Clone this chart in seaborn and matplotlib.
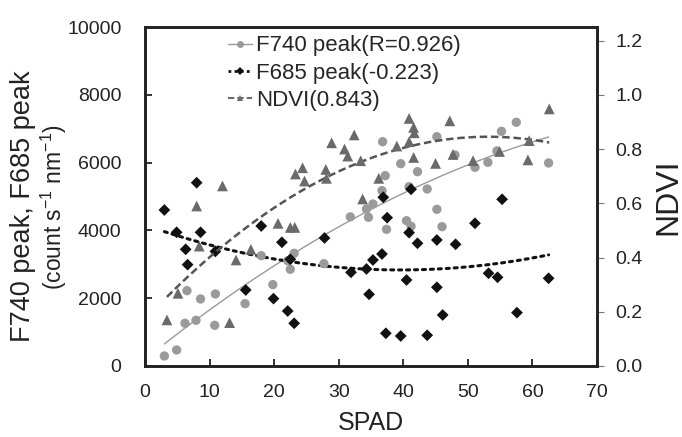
import numpy as np
import pandas as pd
import matplotlib
matplotlib.use("Agg")
import matplotlib.pyplot as plt
from matplotlib.lines import Line2D
import seaborn as sns

# F740 peak (grey circles)
f740_spad = [3.0, 4.9, 6.2, 6.5, 7.9, 8.6, 10.8, 10.9, 15.5, 18.0, 19.8, 22.1, 22.5,
             23.1, 27.7, 31.8, 34.3, 34.6, 35.3, 36.7, 36.8, 37.2, 37.4, 39.6, 40.5,
             40.9, 41.2, 42.2, 43.7, 45.2, 45.2, 46.0, 48.0, 51.1, 53.1, 54.5, 55.2,
             57.5, 62.5]
f740_peak = [295, 472, 1260, 2222, 1348, 1977, 1200, 2124, 1838, 3254, 2400, 3106, 2853,
             3325, 3018, 4400, 4632, 4387, 4779, 5171, 6617, 5614, 4032, 5968, 4286,
             5289, 4121, 5732, 5221, 4622, 6765, 4110, 6224, 5861, 6009, 6343, 6924,
             7189, 5989]

# F685 peak (black diamonds)
f685_spad = [3.0, 4.9, 6.3, 6.6, 8.0, 8.6, 10.9, 15.6, 18.0, 19.9, 21.2, 22.1, 22.5,
             23.1, 27.8, 31.9, 34.3, 34.7, 35.3, 36.7, 36.9, 37.3, 37.5, 39.6, 40.5,
             40.9, 41.2, 42.2, 43.7, 45.2, 45.2, 46.1, 48.1, 51.1, 53.2, 54.6, 55.3,
             57.6, 62.5]
f685_peak = [4602, 3944, 3442, 2989, 5407, 3944, 3380, 2242, 4130, 1987, 3649, 1622, 3148,
             1259, 3776, 2764, 2862, 2115, 3127, 3304, 4977, 965, 4375, 885, 2537,
             3933, 5213, 3620, 906, 3717, 2322, 1505, 3590, 4210, 2735, 2617, 4918,
             1574, 2587]

# NDVI (dark grey triangles, right axis)
ndvi_spad = [3.4, 5.1, 8.0, 8.4, 12.0, 13.1, 14.1, 16.4, 20.6, 22.5, 23.2, 23.3, 24.4,
             24.7, 28.0, 28.1, 28.9, 30.9, 31.4, 32.4, 33.4, 33.7, 36.2, 39.0, 40.9,
             41.6, 41.7, 40.9, 41.6, 45.0, 47.2, 47.7, 50.8, 54.9, 59.5, 59.3, 62.6]
ndvi_val = [0.170, 0.268, 0.590, 0.442, 0.664, 0.160, 0.391, 0.430, 0.526, 0.511, 0.511,
            0.708, 0.731, 0.682, 0.725, 0.692, 0.823, 0.800, 0.774, 0.852, 0.757, 0.616,
            0.692, 0.811, 0.913, 0.880, 0.860, 0.827, 0.769, 0.747, 0.904, 0.780, 0.757,
            0.791, 0.831, 0.760, 0.948]

legend_labels = ["F740 peak(R=0.926)", "F685 peak(-0.223)", "NDVI(0.843)"]


def quad_trend(x, y):
    """Second-order polynomial trendline over the data range."""
    coef = np.polyfit(x, y, 2)
    xs = np.linspace(min(x), max(x), 200)
    return pd.DataFrame({"x": xs, "y": np.polyval(coef, xs)})


sns.set_style("ticks")
plt.rcParams["font.family"] = ["Liberation Sans", "DejaVu Sans"]
plt.rcParams["mathtext.fontset"] = "custom"
plt.rcParams["mathtext.rm"] = "Liberation Sans"
plt.rcParams["mathtext.it"] = "Liberation Sans"

fig = plt.figure(figsize=(6.82, 4.37), dpi=100)
ax = fig.add_axes([0.2126, 0.1625, 0.6628, 0.7757])
ax2 = ax.twinx()

c740, c685, cndvi = "#9a9a9a", "#111111", "#6a6a6a"

sns.scatterplot(x=f740_spad, y=f740_peak, ax=ax, marker="o", s=45, color=c740,
                edgecolor="none", zorder=3)
sns.scatterplot(x=f685_spad, y=f685_peak, ax=ax, marker="D", s=36, color=c685,
                edgecolor="none", zorder=3)
sns.scatterplot(x=ndvi_spad, y=ndvi_val, ax=ax2, marker="^", s=60, color=cndvi,
                edgecolor="none", zorder=3)

t740 = quad_trend(f740_spad, f740_peak)
t685 = quad_trend(f685_spad, f685_peak)
tndvi = quad_trend(ndvi_spad, ndvi_val)
sns.lineplot(data=t740, x="x", y="y", ax=ax, color=c740, lw=1.0)
sns.lineplot(data=t685, x="x", y="y", ax=ax, color=c685, lw=2.2,
             linestyle=(0, (1, 1.6)), dash_capstyle="round")
sns.lineplot(data=tndvi, x="x", y="y", ax=ax2, color="#555555", lw=1.8,
             linestyle=(0, (3, 1.5)))

ax.set_xlim(0, 70)
ax.set_ylim(0, 10000)
ax2.set_ylim(0, 1.25)
ax.set_xticks(range(0, 71, 10))
ax.set_yticks(range(0, 10001, 2000))
ax2.set_yticks(np.arange(0, 1.21, 0.2))
ax2.set_yticklabels([f"{v:.1f}" for v in np.arange(0, 1.21, 0.2)])

for side in ["left", "right", "top", "bottom"]:
    ax.spines[side].set_linewidth(1.9)
    ax.spines[side].set_color("#222222")
    ax2.spines[side].set_linewidth(1.9)
    ax2.spines[side].set_color("#222222")

ax.tick_params(axis="x", direction="in", length=5, width=1.3, labelsize=14,
               pad=13, colors="#222222")
ax.tick_params(axis="y", direction="in", length=5, width=1.3, labelsize=14,
               pad=17, colors="#222222")
ax2.tick_params(axis="y", direction="out", length=5, width=0.8, labelsize=14,
                pad=8, color="#777777", labelcolor="#222222")

ax.set_xlabel("SPAD", fontsize=18, labelpad=7, color="#222222")
ax.set_ylabel("")
ax2.set_ylabel("NDVI", fontsize=23, labelpad=8, color="#222222")

fig.text(23 / 682, 1 - 206 / 437, "F740 peak, F685 peak", rotation=90,
         fontsize=19.5, ha="center", va="center", color="#222222")
fig.text(54 / 682, 1 - 207 / 437, r"(count s$^{-1}$ nm$^{-1}$)", rotation=90,
         fontsize=16.5, ha="center", va="center", color="#222222")

handles = [
    Line2D([], [], color=c740, lw=1.0, marker="o", markersize=5, markeredgewidth=0),
    Line2D([], [], color=c685, lw=2.0, linestyle=(0, (1, 1.2)), marker="D",
           markersize=4, markeredgewidth=0),
    Line2D([], [], color=cndvi, lw=1.5, linestyle=(0, (3, 1.5)), marker="^",
           markersize=5, markeredgewidth=0),
]
ax.legend(handles, legend_labels, loc="upper left", bbox_to_anchor=(0.1836, 0.975),
          frameon=False, fontsize=16, handlelength=1.1, handletextpad=0.15,
          labelspacing=0.28, borderpad=0, borderaxespad=0)

fig.savefig("out.png", dpi=100)
